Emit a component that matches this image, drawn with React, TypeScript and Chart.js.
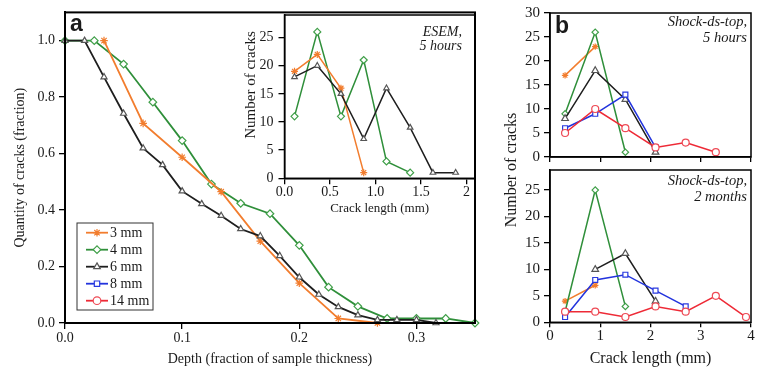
import React, { useEffect, useRef } from 'react';
import { Chart, registerables } from 'chart.js';
import { drawPoint } from 'chart.js/helpers';

Chart.register(...registerables);

const SERIF = '"Liberation Serif", "DejaVu Serif", serif';
const SANS = '"Liberation Sans", Arial, sans-serif';
const INK = '#1a1a1a';

// ---------- Panel a: cumulative fraction vs depth ----------
const DEPTH_3MM = [0.0333, 0.0667, 0.1, 0.1333, 0.1667, 0.2, 0.2333, 0.2667];
const QTY_3MM = [1.0, 0.707, 0.587, 0.465, 0.29, 0.141, 0.016, 0.0];
const DEPTH_4MM = [0, 0.025, 0.05, 0.075, 0.1, 0.125, 0.15, 0.175, 0.2, 0.225, 0.25, 0.275, 0.3, 0.325, 0.35];
const QTY_4MM = [1.0, 1.0, 0.917, 0.782, 0.646, 0.492, 0.424, 0.387, 0.275, 0.127, 0.059, 0.016, 0.016, 0.016, 0.0];
const DEPTH_6MM = [0, 0.0167, 0.0333, 0.05, 0.0667, 0.0833, 0.1, 0.1167, 0.1333, 0.15, 0.1667, 0.1833, 0.2, 0.2167, 0.2333, 0.25, 0.2667, 0.2833, 0.3, 0.3167];
const QTY_6MM = [1.0, 1.0, 0.871, 0.742, 0.619, 0.56, 0.467, 0.422, 0.38, 0.333, 0.308, 0.238, 0.162, 0.101, 0.057, 0.028, 0.011, 0.011, 0.011, 0.0];

// ---------- Panel a inset: ESEM, 5 hours ----------
const ESEM_LEN = [0.11, 0.36, 0.62, 0.87, 1.12, 1.38, 1.63, 1.88];
const ESEM_3MM = [19, 22, 16, 1];
const ESEM_4MM = [11, 26, 11, 21, 3, 1];
const ESEM_6MM = [18, 20, 15, 7, 16, 9, 1, 1];

// ---------- Panel b: Shock-ds-top ----------
const SHOCK_LEN = [0.3, 0.9, 1.5, 2.1, 2.7, 3.3, 3.9];
const H5_3MM = [17, 23];
const H5_4MM = [9, 26, 1];
const H5_6MM = [8, 18, 12, 1];
const H5_8MM = [6, 9, 13, 2];
const H5_14MM = [5, 10, 6, 2, 3, 1];
const M2_3MM = [4, 7];
const M2_4MM = [2, 25, 3];
const M2_6MM = [null, 10, 13, 4];
const M2_8MM = [1, 8, 9, 6, 3];
const M2_14MM = [2, 2, 1, 3, 2, 5, 1];

const LEGEND_NAMES = ['3 mm', '4 mm', '6 mm', '8 mm', '14 mm'];

const STYLE: Record<string, { color: string; point: string; pointColor: string }> = {
  '3 mm': { color: '#f27d2e', point: 'star', pointColor: '#f27d2e' },
  '4 mm': { color: '#2f8f3a', point: 'rectRot', pointColor: '#3f9f48' },
  '6 mm': { color: '#1e1e1e', point: 'triangle', pointColor: '#555' },
  '8 mm': { color: '#2233dd', point: 'rect', pointColor: '#2a3ae0' },
  '14 mm': { color: '#ee2a36', point: 'circle', pointColor: '#ee4a55' },
};

function pts(xs: number[], ys: (number | null)[]) {
  const out: { x: number; y: number }[] = [];
  ys.forEach((y, i) => {
    if (y !== null && y !== undefined) out.push({ x: xs[i], y });
  });
  return out;
}

function ds(name: string, data: any[], line: number, r: number) {
  const s = STYLE[name];
  return {
    label: name,
    data,
    borderColor: s.color,
    backgroundColor: s.color,
    borderWidth: line,
    pointStyle: s.point,
    pointRadius: r,
    pointBorderColor: s.pointColor,
    pointBackgroundColor: '#fff',
    pointBorderWidth: 1.2,
    tension: 0,
    clip: false,
  };
}

function framePlugin(width: number) {
  return {
    id: 'frame',
    afterDraw(chart: any) {
      const { ctx, chartArea: a } = chart;
      ctx.save();
      ctx.strokeStyle = '#000';
      ctx.lineWidth = width;
      ctx.strokeRect(a.left, a.top, a.right - a.left, a.bottom - a.top);
      ctx.restore();
    },
  };
}

type TextItem = { text: string; x: number; y: number; font: string; align?: CanvasTextAlign; rotate?: number; baseline?: CanvasTextBaseline };

function textPlugin(items: TextItem[], legend?: any) {
  return {
    id: 'texts',
    afterDraw(chart: any) {
      const ctx: CanvasRenderingContext2D = chart.ctx;
      for (const t of items) {
        ctx.save();
        ctx.font = t.font;
        ctx.fillStyle = INK;
        ctx.textAlign = t.align || 'left';
        ctx.textBaseline = t.baseline || 'alphabetic';
        ctx.translate(t.x, t.y);
        if (t.rotate) ctx.rotate(t.rotate);
        ctx.fillText(t.text, 0, 0);
        ctx.restore();
      }
      if (legend) {
        ctx.save();
        ctx.strokeStyle = '#333';
        ctx.lineWidth = 1;
        ctx.strokeRect(legend.x, legend.y, legend.w, legend.h);
        legend.names.forEach((name: string, i: number) => {
          const s = STYLE[name];
          const y = legend.y0 + i * legend.dy;
          ctx.strokeStyle = s.color;
          ctx.lineWidth = 1.8;
          ctx.beginPath();
          ctx.moveTo(legend.l0, y);
          ctx.lineTo(legend.l1, y);
          ctx.stroke();
          ctx.fillStyle = '#fff';
          ctx.strokeStyle = s.pointColor;
          ctx.lineWidth = 1.2;
          drawPoint(ctx, { pointStyle: s.point as any, radius: 3.8, rotation: 0, borderWidth: 1.2 }, (legend.l0 + legend.l1) / 2, y);
          ctx.fillStyle = INK;
          ctx.font = `14px ${SERIF}`;
          ctx.textAlign = 'left';
          ctx.textBaseline = 'middle';
          ctx.fillText(name, legend.tx, y + 1);
        });
        ctx.restore();
      }
    },
  };
}

function scaleBase(border: number, size: number, tickLen: number, pad: number) {
  return {
    type: 'linear',
    border: { display: true, color: '#000', width: border },
    grid: { drawOnChartArea: false, drawTicks: true, tickLength: tickLen, color: '#000', lineWidth: 1.3 },
    ticks: { font: { family: SERIF, size }, color: INK, padding: pad, includeBounds: false } as any,
  };
}

function mainConfig(): any {
  const x: any = scaleBase(2, 14, 6, 1);
  x.min = 0; x.max = 0.35;
  x.ticks.stepSize = 0.1;
  x.ticks.callback = (v: number) => v.toFixed(1);
  x.afterFit = (s: any) => { s.height = 49; };
  x.title = { display: true, text: 'Depth (fraction of sample thickness)', font: { family: SERIF, size: 14 }, color: INK, padding: { top: 0, bottom: 4 } };
  const y: any = scaleBase(2, 14, 6, 4);
  y.min = 0; y.max = 1.1;
  y.ticks.stepSize = 0.2;
  y.ticks.callback = (v: number) => v.toFixed(1);
  y.afterFit = (s: any) => { s.width = 65; };
  y.title = { display: true, text: 'Quantity of cracks (fraction)', font: { family: SERIF, size: 14 }, color: INK, padding: { top: 12, bottom: 0 } };
  return {
    type: 'line',
    data: {
      datasets: [
        ds('6 mm', pts(DEPTH_6MM, QTY_6MM), 1.8, 3.5),
        ds('3 mm', pts(DEPTH_3MM, QTY_3MM), 1.8, 3.8),
        ds('4 mm', pts(DEPTH_4MM, QTY_4MM), 1.8, 3.8),
      ],
    },
    options: {
      animation: false,
      responsive: false,
      layout: { padding: { left: 0, top: 8, right: 15, bottom: 0 } },
      plugins: { legend: { display: false }, tooltip: { enabled: false } },
      scales: { x, y },
    },
    plugins: [
      framePlugin(2),
      textPlugin(
        [{ text: 'a', x: 70, y: 31, font: `bold 23px ${SANS}` }],
        { x: 77, y: 223, w: 76, h: 87, names: LEGEND_NAMES, y0: 232.7, dy: 17, l0: 86, l1: 108, tx: 110 }
      ),
    ],
  };
}

function insetConfig(): any {
  const x: any = scaleBase(1.5, 14, 6, 0);
  x.min = 0; x.max = 2.09;
  x.ticks.stepSize = 0.5;
  x.ticks.callback = (v: number) => (Math.abs(v - 2) < 1e-6 ? '2' : v.toFixed(1));
  x.afterFit = (s: any) => { s.height = 43.7; };
  x.title = { display: true, text: 'Crack length (mm)', font: { family: SERIF, size: 13 }, color: INK, padding: { top: 0, bottom: 6 } };
  const y: any = scaleBase(1.5, 14, 6, 5);
  y.min = 0; y.max = 29;
  y.ticks.stepSize = 5;
  y.afterFit = (s: any) => { s.width = 54.5; };
  return {
    type: 'line',
    data: {
      datasets: [
        ds('6 mm', pts(ESEM_LEN, ESEM_6MM), 1.5, 3.2),
        ds('3 mm', pts(ESEM_LEN, ESEM_3MM), 1.5, 3.5),
        ds('4 mm', pts(ESEM_LEN, ESEM_4MM), 1.5, 3.5),
      ],
    },
    options: {
      animation: false,
      responsive: false,
      layout: { padding: { left: 0, top: 15, right: 0, bottom: 0 } },
      plugins: { legend: { display: false }, tooltip: { enabled: false } },
      scales: { x, y },
    },
    plugins: [
      framePlugin(1.5),
      textPlugin([
        { text: 'Number of cracks', x: 21, y: 85, font: `15px ${SERIF}`, align: 'center', baseline: 'middle', rotate: -Math.PI / 2 },
        { text: 'ESEM,', x: 232, y: 36, font: `italic 14px ${SERIF}`, align: 'right' },
        { text: '5 hours', x: 232, y: 49.5, font: `italic 14px ${SERIF}`, align: 'right' },
      ]),
    ],
  };
}

function upConfig(): any {
  const x: any = scaleBase(1.5, 15, 5, 0);
  x.min = 0; x.max = 4;
  x.ticks.stepSize = 1;
  x.ticks.display = false;
  x.afterFit = (s: any) => { s.height = 8.3; };
  const y: any = scaleBase(1.5, 15, 6, 4);
  y.min = 0; y.max = 30;
  y.ticks.stepSize = 5;
  y.afterFit = (s: any) => { s.width = 60; };
  return {
    type: 'line',
    data: {
      datasets: [
        ds('14 mm', pts(SHOCK_LEN, H5_14MM), 1.5, 3.5),
        ds('8 mm', pts(SHOCK_LEN, H5_8MM), 1.5, 3.5),
        ds('6 mm', pts(SHOCK_LEN, H5_6MM), 1.5, 3.8),
        ds('4 mm', pts(SHOCK_LEN, H5_4MM), 1.5, 3.2),
        ds('3 mm', pts(SHOCK_LEN, H5_3MM), 1.5, 3.2),
      ],
    },
    options: {
      animation: false,
      responsive: false,
      layout: { padding: { left: 0, top: 10, right: 12, bottom: 0 } },
      plugins: { legend: { display: false }, tooltip: { enabled: false } },
      scales: { x, y },
    },
    plugins: [
      framePlugin(1.5),
      textPlugin([
        { text: 'b', x: 65, y: 33, font: `bold 23px ${SANS}` },
        { text: 'Shock-ds-top,', x: 257, y: 25.5, font: `italic 14.5px ${SERIF}`, align: 'right' },
        { text: '5 hours', x: 257, y: 41.5, font: `italic 14.5px ${SERIF}`, align: 'right' },
      ]),
    ],
  };
}

function lowConfig(): any {
  const x: any = scaleBase(1.5, 15, 5, 0);
  x.min = 0; x.max = 4;
  x.ticks.stepSize = 1;
  x.afterFit = (s: any) => { s.height = 49.7; };
  x.title = { display: true, text: 'Crack length (mm)', font: { family: SERIF, size: 16 }, color: INK, padding: { top: 0, bottom: 4 } };
  const y: any = scaleBase(1.5, 15, 6, 4);
  y.min = 0; y.max = 28.8;
  y.ticks.stepSize = 5;
  y.afterFit = (s: any) => { s.width = 60; };
  return {
    type: 'line',
    data: {
      datasets: [
        ds('14 mm', pts(SHOCK_LEN, M2_14MM), 1.5, 3.5),
        ds('8 mm', pts(SHOCK_LEN, M2_8MM), 1.5, 3.5),
        ds('6 mm', pts(SHOCK_LEN, M2_6MM), 1.5, 3.8),
        ds('4 mm', pts(SHOCK_LEN, M2_4MM), 1.5, 3.2),
        ds('3 mm', pts(SHOCK_LEN, M2_3MM), 1.5, 3.2),
      ],
    },
    options: {
      animation: false,
      responsive: false,
      layout: { padding: { left: 0, top: 170, right: 12, bottom: 0 } },
      plugins: { legend: { display: false }, tooltip: { enabled: false } },
      scales: { x, y },
    },
    plugins: [
      framePlugin(1.5),
      textPlugin([
        { text: 'Number of cracks', x: 22, y: 170, font: `16px ${SERIF}`, align: 'center', baseline: 'middle', rotate: -Math.PI / 2 },
        { text: 'Shock-ds-top,', x: 257, y: 185, font: `italic 14.5px ${SERIF}`, align: 'right' },
        { text: '2 months', x: 257, y: 201, font: `italic 14.5px ${SERIF}`, align: 'right' },
      ]),
    ],
  };
}

export default function App() {
  const mainRef = useRef<HTMLCanvasElement>(null);
  const insetRef = useRef<HTMLCanvasElement>(null);
  const upRef = useRef<HTMLCanvasElement>(null);
  const lowRef = useRef<HTMLCanvasElement>(null);

  useEffect(() => {
    const charts = [
      new Chart(mainRef.current!, mainConfig()),
      new Chart(insetRef.current!, insetConfig()),
      new Chart(lowRef.current!, lowConfig()),
      new Chart(upRef.current!, upConfig()),
    ];
    return () => charts.forEach((c) => c.destroy());
  }, []);

  const cs = (l: number, t: number, w: number, h: number): React.CSSProperties => ({
    position: 'absolute', left: l, top: t, width: w, height: h,
  });

  return (
    <div style={{ position: 'fixed', left: 0, top: 0, width: 763, height: 372, background: '#fff', overflow: 'hidden' }}>
      <canvas ref={mainRef} width={490} height={372} style={cs(0, 0, 490, 372)} />
      <canvas ref={insetRef} width={250} height={222} style={cs(230, 0, 250, 222)} />
      <canvas ref={lowRef} width={273} height={372} style={cs(490, 0, 273, 372)} />
      <canvas ref={upRef} width={273} height={170} style={cs(490, 0, 273, 170)} />
    </div>
  );
}
